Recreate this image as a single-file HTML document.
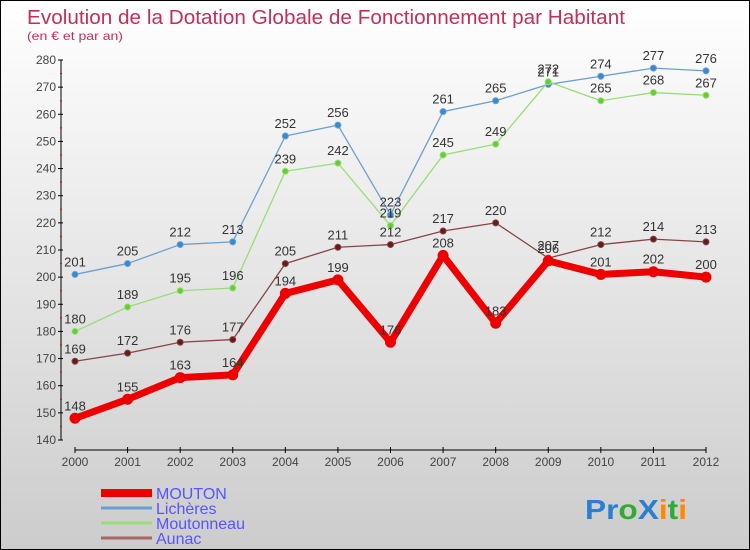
<!DOCTYPE html>
<html><head><meta charset="utf-8"><style>
body{margin:0}
#wrap{position:relative;width:748px;height:548px;border:1px solid #000;background:linear-gradient(#ffffff,#cccccc);overflow:hidden;font-family:"Liberation Sans",sans-serif}
</style></head><body>
<div id="wrap">
<svg id="svg" width="748" height="548"></svg>
</div>
<script>
const years=["2000","2001","2002","2003","2004","2005","2006","2007","2008","2009","2010","2011","2012"];
const yTicks=[140,150,160,170,180,190,200,210,220,230,240,250,260,270,280];
const mouton=[148,155,163,164,194,199,176,208,183,206,201,202,200];
const licheres=[201,205,212,213,252,256,223,261,265,271,274,277,276];
const moutonneau=[180,189,195,196,239,242,219,245,249,272,265,268,267];
const aunac=[169,172,176,177,205,211,212,217,220,207,212,214,213];
const NS="http://www.w3.org/2000/svg";
const svg=document.getElementById('svg');
const X=i=>74+i*(705-74)/12;
const Y=v=>439-(v-140)*(380/140);
function mk(t,a,p){const e=document.createElementNS(NS,t);for(const k in a)e.setAttribute(k,a[k]);(p||svg).appendChild(e);return e;}
function txt(x,y,s,a){const e=mk('text',Object.assign({x:x,y:y},a));e.textContent=s;return e;}
let t=txt(26,23,"Evolution de la Dotation Globale de Fonctionnement par Habitant",{'font-size':20,fill:'#c0305a',textLength:598,lengthAdjust:'spacingAndGlyphs','font-weight':'300'});

t=txt(26,39,"(en € et par an)",{'font-size':12,fill:'#c0305a',textLength:96,lengthAdjust:'spacingAndGlyphs'});

let ax=mk('line',{x1:60,y1:Y(280),x2:60,y2:Y(140),stroke:'#000'});

ax=mk('line',{x1:X(0),y1:449,x2:X(12),y2:449,stroke:'#000'});

yTicks.forEach(v=>{mk('line',{x1:57,y1:Y(v),x2:62,y2:Y(v),stroke:'#000'});
 if(v<280)mk('line',{x1:59,y1:Y(v+5),x2:61,y2:Y(v+5),stroke:'#e00'});
 const l=txt(55,Y(v)+4,String(v),{'font-size':12,fill:'#444','text-anchor':'end'});
 });
years.forEach((y,i)=>{mk('line',{x1:X(i),y1:446,x2:X(i),y2:452,stroke:'#000'});
 const l=txt(X(i),465,y,{'font-size':12,fill:'#444','text-anchor':'middle'});
 });
function series(d,color,dot,w,r,name){
 const g=mk('g',{});
 mk('polyline',{points:d.map((v,i)=>X(i)+','+Y(v)).join(' '),fill:'none',stroke:color,'stroke-width':w,'stroke-linejoin':'round'},g);
 d.forEach((v,i)=>{const c=mk('circle',{cx:X(i),cy:Y(v),r:r,fill:dot,stroke:color,'stroke-width':1},g);
  
  const l=txt(X(i),Y(v)-8,String(v),{'font-size':13,fill:'#333','text-anchor':'middle'},g);
  });
}
series(licheres,'#6aa0d0','#3a88d0',1.3,3,'licheres');
series(moutonneau,'#99dd77','#66cc33',1.3,3,'moutonneau');
series(aunac,'#884444','#661a1a',1.3,3,'aunac');
series(mouton,'#ee0000','#ee0000',7,5,'mouton');
const leg=[["MOUTON","#ee0000",8],["Lichères","#6aa0d0",3],["Moutonneau","#99dd77",3],["Aunac","#aa6666",3]];
leg.forEach((e,i)=>{const g=mk('g',{});
 const y=492+i*15;
 mk('line',{x1:100,y1:y,x2:151,y2:y,stroke:e[1],'stroke-width':e[2]},g);
 txt(155,y+6,e[0],{'font-size':16,fill:'#5555ff'},g);});
const lg=mk('text',{x:584,y:518,'font-size':28,'font-weight':'bold',textLength:102,lengthAdjust:'spacingAndGlyphs'});

[["Pr","#2a7fd0"],["o","#33aa33"],["X","#2a7fd0"],["i","#ff8800"],["t","#33aa33"],["i","#ff8800"]].forEach(p=>{const s=mk('tspan',{fill:p[1]},lg);s.textContent=p[0];});
</script>
</body></html>
